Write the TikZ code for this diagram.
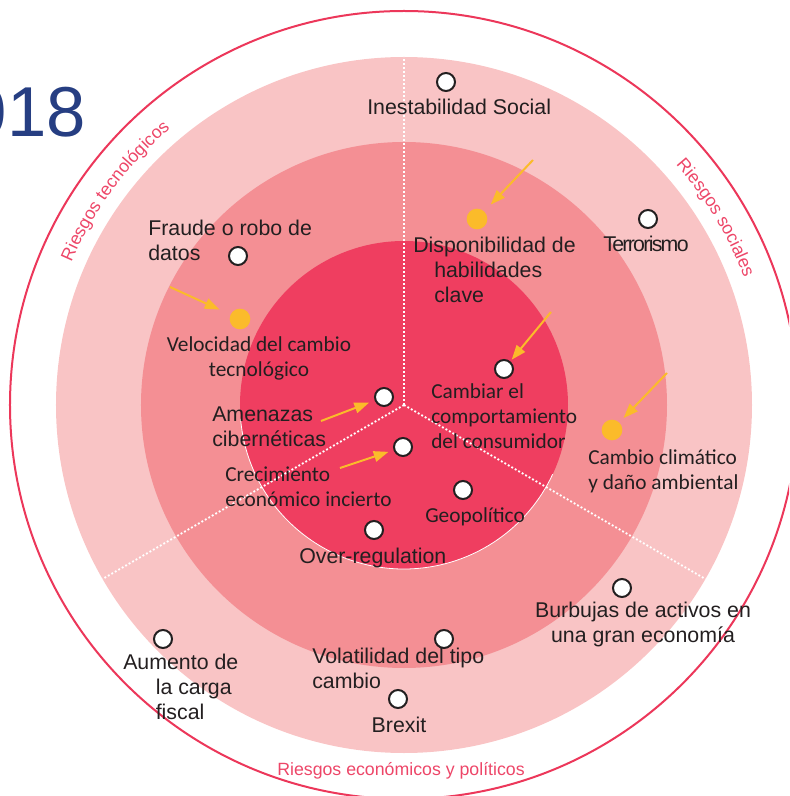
\documentclass[tikz,border=0pt]{standalone}
\usepackage{fontspec}
\setmainfont{Liberation Sans}
\newfontfamily\calfont{Carlito}
\newfontfamily\tightfont{Liberation Sans}[LetterSpace=-8]
\usetikzlibrary{arrows.meta,decorations.text}

\definecolor{ringout}{RGB}{249,196,197}
\definecolor{ringmid}{RGB}{244,143,148}
\definecolor{ringin}{RGB}{239,62,96}
\definecolor{rimred}{RGB}{236,55,90}
\definecolor{tagred}{RGB}{237,70,104}
\definecolor{amber}{RGB}{251,187,42}
\definecolor{ink}{RGB}{35,31,32}
\definecolor{yearblue}{RGB}{38,62,130}

\newcommand{\lblfont}{\fontsize{16}{18.75}\selectfont}
\newcommand{\tagfont}{\fontsize{13.3}{16}\selectfont}

\tikzset{
  risk/.style={circle, draw=ink, fill=white, line width=1.5pt, minimum size=13.5pt, inner sep=0pt},
  newrisk/.style={circle, fill=amber, minimum size=15.5pt, inner sep=0pt},
  lbl/.style={text=ink, font=\lblfont, inner sep=0pt},
  cal/.style={lbl, font=\calfont\lblfont},
  move/.style={draw=amber, line width=1.5pt, -{Triangle[length=11pt,width=8pt]}},
  sector/.style={draw=white, line width=1.4pt, dash pattern=on 1.4pt off 1.6pt},
  tag/.style={decorate, decoration={text along path, text align=center, text color=tagred}}
}

\begin{document}
\begin{tikzpicture}[x=0.75pt,y=0.75pt]
\useasboundingbox (-404,-391) rectangle (385,405);
\clip (-404,-391) rectangle (385,405);

% rings
\fill[ringout] (0,0) circle (348);
\fill[ringmid] (0,0) circle (263);
\fill[ringin] (0,0) circle (164);
\draw[white, line width=0.6pt] (185:164) arc (185:335:164);
\draw[rimred, line width=1.5pt] (0,0) circle (394);

% sectors
\coordinate (hub) at (0,0);
\foreach \a in {90,210,330}
    \draw[sector] (hub) -- (\a:348);

% sector names
\path[tag, decoration={text={|\tagfont|Riesgos tecnológicos}}] (176:362) arc (176:111:362);
\path[tag, decoration={text={|\tagfont|Riesgos sociales}}] (62:363) arc (62:0:363);
\node[anchor=base, inner sep=0pt, text=tagred, font=\tagfont] (econ) at (-3,-370) {Riesgos económicos y políticos};

\node[anchor=base east, inner sep=0pt, text=yearblue, font=\fontsize{53}{60}\selectfont] (year) at (-318,268) {018};

% risks
\node[risk] (inest) at (42,323) {};
\node[risk] (fraude) at (-166,149) {};
\node[risk] (terror) at (244,186) {};
\node[risk] (consumo) at (100,36) {};
\node[risk] (ciber) at (-20,8) {};
\node[risk] (crec) at (-1,-42) {};
\node[risk] (geopol) at (59,-85) {};
\node[risk] (overreg) at (-30,-125) {};
\node[risk] (burbuja) at (218,-183) {};
\node[risk] (tipo) at (40,-234) {};
\node[risk] (brexit) at (-6,-294) {};
\node[risk] (fiscal) at (-241,-234) {};
\node[newrisk] (veloc) at (-164,86) {};
\node[newrisk] (habil) at (73,186) {};
\node[newrisk] (clima) at (208,-25) {};

% labels
\node[lbl, anchor=base west] (inestL) at (-37,290) {Inestabilidad Social};
\node[lbl, anchor=north west, align=left] (fraudeL) at (-256,185) {Fraude o robo de\\datos};
\node[cal, anchor=north, align=center] (velocL) at (-145,69) {Velocidad del cambio\\tecnológico};
\node[lbl, anchor=north west, align=left] (habilL) at (9,168) {Disponibilidad de\\\hspace*{15.75pt}habilidades\\\hspace*{15.75pt}clave};
\node[lbl, anchor=base west, font=\tightfont\lblfont] (terrorL) at (199,153) {Terrorismo};
\node[cal, anchor=north west, align=left] (consumoL) at (27,22) {Cambiar el\\comportamiento\\del consumidor};
\node[lbl, anchor=north west, align=left] (ciberL) at (-192,-2) {Amenazas\\cibernéticas};
\node[cal, anchor=north west, align=left] (crecL) at (-179,-62) {Crecimiento\\económico incierto};
\node[cal, anchor=base west] (geopolL) at (21,-117) {Geopolítico};
\node[lbl, anchor=base west] (overregL) at (-105,-158) {Over-regulation};
\node[cal, anchor=north west, align=left] (climaL) at (184,-44) {Cambio climático\\y daño ambiental};
\node[lbl, anchor=north, align=center] (burbujaL) at (239,-197) {Burbujas de activos en\\una gran economía};
\node[lbl, anchor=north west, align=left] (tipoL) at (-92,-243) {Volatilidad del tipo\\cambio};
\node[lbl, anchor=base] (brexitL) at (-5,-327) {Brexit};
\node[lbl, anchor=north west, align=left] (fiscalL) at (-281,-249) {Aumento de\\\hspace*{24.4pt}la carga\\\hspace*{24.4pt}fiscal};

% movers
\coordinate (velocA) at (-234,118);
\coordinate (habilA) at (129,245);
\coordinate (consumoA) at (147,93);
\coordinate (climaA) at (263,32);
\coordinate (ciberA) at (-83,-16);
\coordinate (crecA) at (-64,-63);
\draw[move, shorten >=9pt] (velocA) -- (veloc);
\draw[move, shorten >=7pt] (habilA) -- (habil);
\draw[move, shorten >=1.5pt] (consumoA) -- (consumo);
\draw[move, shorten >=4.5pt] (climaA) -- (clima);
\draw[move, shorten >=4.5pt] (ciberA) -- (ciber);
\draw[move, shorten >=4pt] (crecA) -- (crec);

\end{tikzpicture}
\end{document}
